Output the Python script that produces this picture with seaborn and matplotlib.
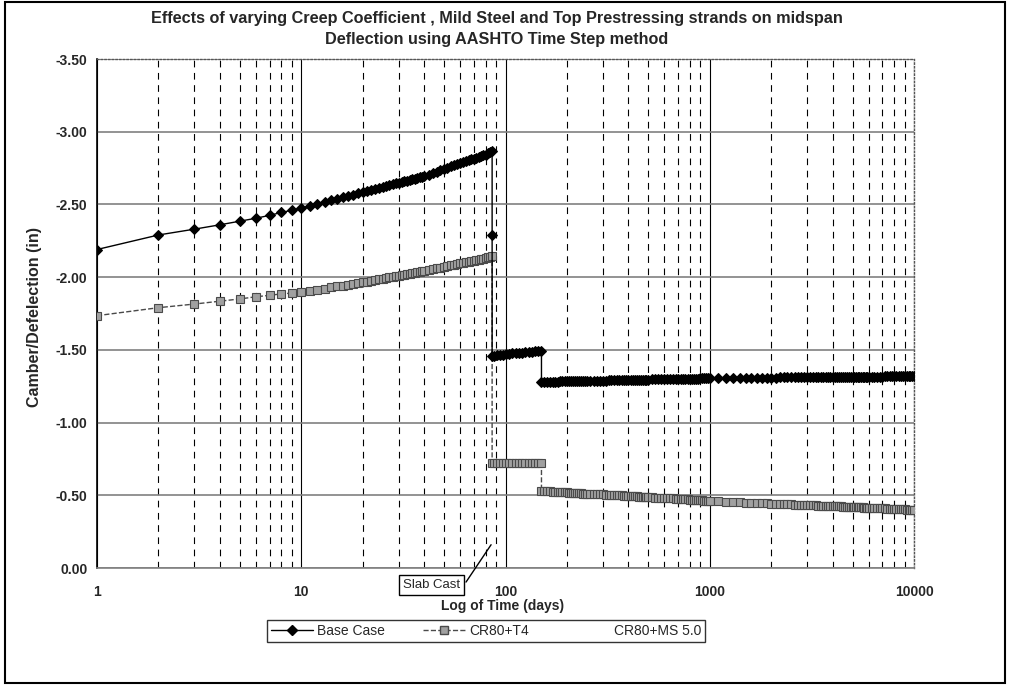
import numpy as np
import pandas as pd
import seaborn as sns
import matplotlib
matplotlib.use("Agg")
import matplotlib.pyplot as plt
from matplotlib.lines import Line2D
from matplotlib.patches import Rectangle
from matplotlib.ticker import LogLocator, NullFormatter

# ========================
# DATA
# ========================
# time steps (days) for each stage
pre_days = [1, 2, 3, 4, 5, 6, 7, 8, 9, 10, 11, 12, 13, 14, 15, 16, 17, 18, 19, 20,
            21, 22, 23, 24, 25, 26, 27, 28, 29, 30, 31, 32, 33, 34, 35, 36, 37, 38, 39, 40,
            42, 44, 46, 48, 50, 52, 54, 56, 58, 60, 62, 64, 66, 68, 70, 72, 74, 76, 78, 80,
            82, 84, 86]
mid_days = [86, 88, 91, 94, 97, 100, 104, 108, 112, 116, 120, 125, 130, 135, 140, 145, 150]
late_days = [150, 155, 160, 165, 170, 175, 180, 185, 190, 195, 200, 205, 210, 215, 220,
             225, 230, 235, 240, 245, 250,
             260, 270, 280, 290, 300, 310, 320, 330, 340, 350, 360, 370, 380, 390, 400,
             410, 420, 430, 440, 450, 460, 470, 480, 490, 500,
             520, 540, 560, 580, 600, 620, 640, 660, 680, 700, 720, 740, 760, 780, 800,
             820, 840, 860, 880, 900, 920, 940, 960, 980, 1000]
long_days = [1100, 1200, 1300, 1400, 1500, 1600, 1700, 1800, 1900, 2000,
             2100, 2200, 2300, 2400, 2500, 2600, 2700, 2800, 2900, 3000,
             3100, 3200, 3300, 3400, 3500, 3600, 3700, 3800, 3900, 4000,
             4100, 4200, 4300, 4400, 4500, 4600, 4700, 4800, 4900, 5000,
             5100, 5200, 5300, 5400, 5500, 5600, 5700, 5800, 5900, 6000,
             6200, 6400, 6600, 6800, 7000, 7200, 7400, 7600, 7800, 8000,
             8200, 8400, 8600, 8800, 9000, 9200, 9400, 9600, 9800, 10000]

# Base Case
base_pre = [-2.19, -2.29, -2.33, -2.36, -2.385, -2.405, -2.425, -2.445, -2.46, -2.475,
            -2.49, -2.504, -2.517, -2.528, -2.539, -2.549, -2.559, -2.568, -2.577, -2.585,
            -2.593, -2.6, -2.607, -2.614, -2.62, -2.626, -2.632, -2.638, -2.644, -2.649,
            -2.654, -2.659, -2.664, -2.669, -2.674, -2.678, -2.682, -2.687, -2.691, -2.695,
            -2.705, -2.715, -2.724, -2.735, -2.745, -2.753, -2.761, -2.769, -2.777, -2.785,
            -2.791, -2.797, -2.803, -2.809, -2.815, -2.821, -2.826, -2.832, -2.837, -2.843,
            -2.853, -2.862, -2.87]
base_slab_day = [86]
base_slab = [-2.29]
base_mid = [-1.46, -1.461, -1.463, -1.465, -1.467, -1.47, -1.472, -1.475, -1.477, -1.479,
            -1.481, -1.483, -1.485, -1.487, -1.489, -1.49, -1.49]
base_late = [-1.28, -1.28, -1.281, -1.281, -1.282, -1.282, -1.282, -1.283, -1.283, -1.283,
             -1.284, -1.284, -1.284, -1.285, -1.285, -1.285, -1.286, -1.286, -1.286, -1.287,
             -1.287,
             -1.287, -1.288, -1.288, -1.289, -1.289, -1.289, -1.29, -1.29, -1.29, -1.291,
             -1.291, -1.292, -1.292, -1.292, -1.293, -1.293, -1.293, -1.294, -1.294, -1.294,
             -1.295, -1.295, -1.295, -1.296, -1.296,
             -1.297, -1.297, -1.298, -1.298, -1.299, -1.299, -1.299, -1.3, -1.3, -1.3,
             -1.301, -1.301, -1.301, -1.302, -1.302, -1.302, -1.303, -1.303, -1.303, -1.304,
             -1.304, -1.304, -1.305, -1.305, -1.305]
base_long = [-1.306, -1.306, -1.307, -1.307, -1.307, -1.308, -1.308, -1.308, -1.309, -1.309,
             -1.309, -1.31, -1.31, -1.31, -1.31, -1.311, -1.311, -1.311, -1.311, -1.312,
             -1.312, -1.312, -1.312, -1.312, -1.312, -1.313, -1.313, -1.313, -1.313, -1.313,
             -1.313, -1.314, -1.314, -1.314, -1.314, -1.314, -1.314, -1.315, -1.315, -1.315,
             -1.315, -1.315, -1.315, -1.315, -1.316, -1.316, -1.316, -1.316, -1.316, -1.316,
             -1.316, -1.316, -1.316, -1.316, -1.316, -1.317, -1.317, -1.317, -1.317, -1.317,
             -1.317, -1.317, -1.317, -1.318, -1.318, -1.318, -1.318, -1.318, -1.318, -1.318]

# CR80+T4
cr80_pre = [-1.735, -1.79, -1.815, -1.835, -1.85, -1.865, -1.875, -1.885, -1.89, -1.895,
            -1.905, -1.913, -1.921, -1.929, -1.936, -1.942, -1.948, -1.954, -1.96, -1.965,
            -1.97, -1.975, -1.98, -1.985, -1.989, -1.994, -1.998, -2.002, -2.006, -2.01,
            -2.014, -2.017, -2.021, -2.024, -2.028, -2.031, -2.035, -2.038, -2.041, -2.044,
            -2.05, -2.055, -2.061, -2.066, -2.071, -2.076, -2.081, -2.086, -2.09, -2.095,
            -2.099, -2.103, -2.107, -2.111, -2.114, -2.118, -2.121, -2.125, -2.128, -2.131,
            -2.136, -2.14, -2.145]
cr80_mid = [-0.725, -0.725, -0.725, -0.724, -0.724, -0.724, -0.723, -0.723, -0.722, -0.722,
            -0.722, -0.721, -0.721, -0.72, -0.72, -0.72, -0.72]
cr80_late = [-0.53, -0.529, -0.528, -0.527, -0.526, -0.525, -0.524, -0.523, -0.522, -0.521,
             -0.52, -0.519, -0.518, -0.517, -0.516, -0.515, -0.514, -0.513, -0.512, -0.512,
             -0.511,
             -0.51, -0.509, -0.508, -0.507, -0.506, -0.505, -0.504, -0.503, -0.502, -0.501,
             -0.5, -0.499, -0.498, -0.497, -0.496, -0.495, -0.494, -0.493, -0.492, -0.491,
             -0.49, -0.489, -0.488, -0.487, -0.486,
             -0.485, -0.484, -0.483, -0.482, -0.481, -0.48, -0.479, -0.478, -0.477, -0.476,
             -0.475, -0.474, -0.473, -0.472, -0.471, -0.47, -0.469, -0.468, -0.467, -0.466,
             -0.465, -0.464, -0.463, -0.462, -0.461]
cr80_long = [-0.459, -0.456, -0.454, -0.452, -0.45, -0.448, -0.447, -0.445, -0.444, -0.442,
             -0.441, -0.44, -0.439, -0.438, -0.437, -0.436, -0.435, -0.434, -0.433, -0.432,
             -0.431, -0.431, -0.43, -0.429, -0.429, -0.428, -0.427, -0.427, -0.426, -0.425,
             -0.425, -0.424, -0.424, -0.423, -0.422, -0.422, -0.421, -0.421, -0.42, -0.42,
             -0.419, -0.419, -0.418, -0.418, -0.417, -0.417, -0.416, -0.415, -0.415, -0.414,
             -0.413, -0.413, -0.412, -0.411, -0.41, -0.41, -0.409, -0.408, -0.407, -0.407,
             -0.406, -0.405, -0.404, -0.404, -0.403, -0.402, -0.402, -0.401, -0.4, -0.4]

x_ticks = [1, 10, 100, 1000, 10000]
x_tick_labels = ["1", "10", "100", "1000", "10000"]
y_ticks = [0.0, -0.5, -1.0, -1.5, -2.0, -2.5, -3.0, -3.5]
series_labels = ["Base Case", "CR80+T4", "CR80+MS 5.0"]

# ========================
# BUILD TABLE
# ========================
base_df = pd.DataFrame({
    "day": pre_days + base_slab_day + mid_days + late_days + long_days,
    "defl": base_pre + base_slab + base_mid + base_late + base_long,
})
cr80_df = pd.DataFrame({
    "day": pre_days + mid_days + late_days + long_days,
    "defl": cr80_pre + cr80_mid + cr80_late + cr80_long,
})

# ========================
# PLOT
# ========================
sns.set_style("white")
plt.rcParams["font.family"] = ["Liberation Sans", "DejaVu Sans"]

W, H = 1013, 688
fig = plt.figure(figsize=(W / 100, H / 100), dpi=100)
ax = fig.add_axes([97 / W, 1 - 568 / H, (914 - 97) / W, (568 - 59) / H])

sns.lineplot(data=base_df, x="day", y="defl", ax=ax, estimator=None, sort=False,
             color="black", lw=1.0, marker="D", markersize=5.5,
             markerfacecolor="black", markeredgecolor="black", zorder=4)
sns.lineplot(data=cr80_df, x="day", y="defl", ax=ax, estimator=None, sort=False,
             color="#4a4a4a", lw=1.0, ls="--", marker="s", markersize=5.5,
             markerfacecolor="#a0a0a0", markeredgecolor="#4a4a4a", markeredgewidth=0.8,
             zorder=3)

ax.set_xscale("log")
ax.set_xlim(1, 10000)
ax.set_ylim(0, -3.5)

ax.set_xticks(x_ticks)
ax.set_xticklabels(x_tick_labels)
ax.xaxis.set_minor_locator(LogLocator(base=10, subs=range(2, 10)))
ax.xaxis.set_minor_formatter(NullFormatter())
ax.set_yticks(y_ticks)
ax.set_yticklabels(["%.2f" % v for v in y_ticks])

for lab in ax.get_xticklabels() + ax.get_yticklabels():
    lab.set_fontweight("bold")
    lab.set_fontsize(10)
ax.tick_params(axis="x", which="major", pad=12, length=0)
ax.tick_params(axis="x", which="minor", length=3, direction="in")
ax.tick_params(axis="y", which="major", pad=3, length=4, direction="out", color="#555555")

# grid
ax.grid(which="major", axis="y", color="#808080", lw=1.2, ls="-")
ax.grid(which="major", axis="x", color="black", lw=0.8, ls="-")
ax.grid(which="minor", axis="x", color="black", lw=0.8, ls=(0, (6, 5)))
ax.set_axisbelow(True)

ax.spines["left"].set_color("black")
ax.spines["left"].set_linewidth(1.2)
ax.spines["bottom"].set_color("#808080")
ax.spines["bottom"].set_linewidth(1.2)
for s in ["top", "right"]:
    ax.spines[s].set_color("#555555")
    ax.spines[s].set_linestyle(":")
    ax.spines[s].set_linewidth(1.0)

ax.set_xlabel("")
ax.set_ylabel("")

# slab cast callout
ax.annotate("Slab Cast", xy=(85, -0.16), xytext=(43.4, 0.117), textcoords="data",
            ha="center", va="center", fontsize=9.5, annotation_clip=False,
            bbox=dict(boxstyle="square,pad=0.3", fc="white", ec="black", lw=1),
            arrowprops=dict(arrowstyle="-", color="black", lw=1, shrinkA=2, shrinkB=0,
                            relpos=(1.0, 0.0)))

# titles / labels
fig.text(497 / W, 1 - 29 / H,
         "Effects of varying Creep Coefficient , Mild Steel and Top Prestressing strands on midspan\n"
         "Deflection using AASHTO Time Step method",
         ha="center", va="center", fontsize=11.7, fontweight="bold", linespacing=1.55)
fig.text(35 / W, 1 - 317 / H, "Camber/Defelection (in)", rotation=90,
         ha="center", va="center", fontsize=11.5, fontweight="bold")
fig.text(503 / W, 1 - 606 / H, "Log of Time (days)",
         ha="center", va="center", fontsize=10, fontweight="bold")

# legend
handles = [
    Line2D([], [], color="black", lw=1.0, marker="D", markersize=5.5),
    Line2D([], [], color="#4a4a4a", lw=1.0, ls="--", marker="s", markersize=5.5,
           markerfacecolor="#a0a0a0", markeredgecolor="#4a4a4a"),
    Line2D([], [], color="none"),
]
leg = fig.legend(handles, series_labels, loc="center", ncol=3,
                 bbox_to_anchor=(486 / W, 1 - 631 / H), frameon=True, fancybox=False,
                 edgecolor="black", fontsize=10, handlelength=3.0, columnspacing=2.8,
                 handletextpad=0.3, borderpad=0.3)
leg.get_frame().set_linewidth(1.0)

# outer chart border
fig.patches.append(Rectangle((5 / W, 1 - 683 / H), (1005 - 5) / W, 681 / H,
                             transform=fig.transFigure, fill=False, ec="black", lw=1.5))

fig.savefig("out.png", dpi=100)
